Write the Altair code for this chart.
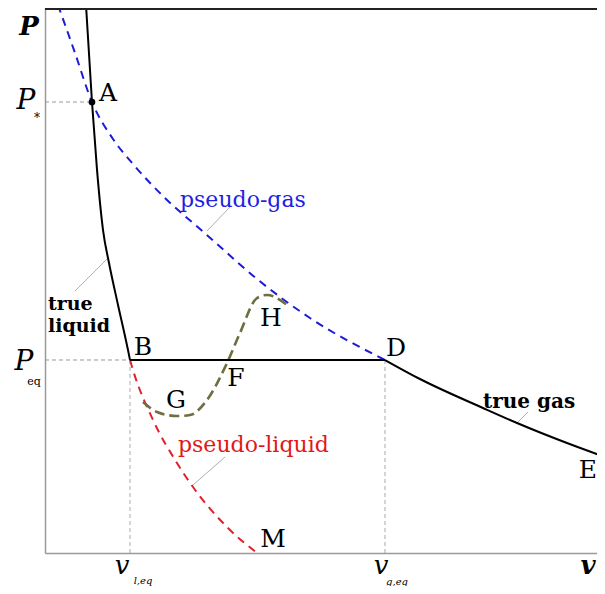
import altair as alt
import pandas as pd

# ---- curve data (v, P in arbitrary units) ----
liq_v = [0.732, 0.839, 0.929, 1.036, 1.143, 1.304, 1.482, 1.518]
liq_P = [10.0, 8.23, 6.99, 5.894, 5.292, 4.526, 3.704, 3.522]

gas_v = [6.071, 6.696, 7.821, 8.429, 9.321, 10.0]
gas_P = [3.522, 3.175, 2.646, 2.372, 2.007, 1.752]

tie_v = [1.518, 6.071]
tie_P = [3.522, 3.522]

pgas_v = [0.232, 0.536, 0.839, 1.214, 1.571, 2.179, 2.768, 3.071, 3.786, 4.732, 6.071]
pgas_P = [10.0, 9.124, 8.23, 7.555, 7.099, 6.442, 5.912, 5.639, 5.0, 4.288, 3.522]

pliq_v = [1.518, 1.571, 1.929, 2.357, 2.643, 3.25, 3.786]
pliq_P = [3.522, 3.339, 2.427, 1.642, 1.204, 0.474, 0.0]

loop_v = [1.75, 2.0, 2.357, 2.589, 2.893, 3.25, 3.482, 3.786, 3.964, 4.321]
loop_P = [2.755, 2.573, 2.5, 2.518, 2.792, 3.467, 4.015, 4.653, 4.708, 4.526]

A_v, A_P = 0.839, 8.23
v_leq, v_geq, P_eq = 1.518, 6.071, 3.522

# point labels
pt_text = ["A", "B", "D", "F", "G", "H", "M"]
pt_v = [1.125, 1.75, 6.268, 3.411, 2.339, 4.036, 4.071]
pt_P = [8.394, 3.759, 3.741, 3.193, 2.792, 4.288, 0.255]

XMAX = 552 / 56
YMAX = 545 / 54.8
xs = alt.Scale(domain=[0, XMAX], nice=False, zero=False)
ys = alt.Scale(domain=[0, YMAX], nice=False, zero=False)
FONT = "DejaVu Serif"


def X(f="v"):
    return alt.X(f + ":Q", scale=xs, title=None)


def Y(f="P"):
    return alt.Y(f + ":Q", scale=ys, title=None)


def curve(vs, ps, color, dash=None, width=2.0):
    df = pd.DataFrame({"v": vs, "P": ps})
    kw = dict(interpolate="monotone", clip=True, color=color, strokeWidth=width)
    if dash:
        kw["strokeDash"] = dash
    return alt.Chart(df).mark_line(**kw).encode(x=X(), y=Y())


def seg(v1, p1, v2, p2, color="#aaaaaa", dash=None, width=1.0):
    df = pd.DataFrame({"v": [v1], "P": [p1], "v2": [v2], "P2": [p2]})
    kw = dict(color=color, strokeWidth=width)
    if dash:
        kw["strokeDash"] = dash
    return alt.Chart(df).mark_rule(**kw).encode(
        x=X(), y=Y(), x2="v2:Q", y2="P2:Q")


def label(t, v, p, size, color="black", style="normal", weight="normal", align="center", baseline="middle"):
    df = pd.DataFrame({"v": [v], "P": [p], "t": [t]})
    return alt.Chart(df).mark_text(
        font=FONT, fontSize=size, color=color, fontStyle=style, fontWeight=weight,
        align=align, baseline=baseline).encode(x=X(), y=Y(), text="t:N")


def px(x, y):
    return ((x - 45) / 56, (553 - y) / 54.8)


layers = []
# helper dashed lines
layers.append(seg(0, A_P, A_v, A_P, color="#999999", dash=[4, 3]))
layers.append(seg(0, P_eq, v_leq, P_eq, color="#999999", dash=[4, 3]))
layers.append(seg(v_leq, 0, v_leq, P_eq, color="#aaaaaa", dash=[4, 3]))
layers.append(seg(v_geq, 0, v_geq, P_eq, color="#aaaaaa", dash=[4, 3]))
# leader lines
for (a, b) in [((75, 291), (107, 259)), ((207, 231), (230, 207)),
               ((193, 485), (225, 457)), ((517, 423), (528, 412))]:
    v1, p1 = px(*a)
    v2, p2 = px(*b)
    layers.append(seg(v1, p1, v2, p2, color="#b0b0b0", width=1))

# curves
layers.append(curve(pgas_v, pgas_P, "#1c1cd6", dash=[8, 6], width=2))
layers.append(curve(pliq_v, pliq_P, "#e0202a", dash=[8, 6], width=2))
layers.append(curve(loop_v, loop_P, "#6e6e40", dash=[10, 5], width=2.6))
layers.append(curve(liq_v, liq_P, "black", width=2))
layers.append(curve(gas_v, gas_P, "black", width=2))
layers.append(curve(tie_v, tie_P, "black", width=2))

# point A
layers.append(alt.Chart(pd.DataFrame({"v": [A_v], "P": [A_P]})).mark_point(
    filled=True, color="black", size=45, opacity=1).encode(x=X(), y=Y()))

# top border
layers.append(alt.Chart(pd.DataFrame({"a": [0]})).mark_rule(color="#222222", strokeWidth=2).encode(
    x=alt.value(0), x2=alt.value(552), y=alt.value(1)))

# point labels
pts = pd.DataFrame({"v": pt_v, "P": pt_P, "t": pt_text})
layers.append(alt.Chart(pts).mark_text(font=FONT, fontSize=25, color="black",
                                       align="center", baseline="middle").encode(
    x=X(), y=Y(), text="t:N"))
ev, ep = px(597, 470)
layers.append(label("E", ev, ep, 25, align="right"))

# curve labels
v, p = px(180, 200)
layers.append(label("pseudo-gas", v, p, 22, color="#1e1ee6", align="left"))
v, p = px(178, 445)
layers.append(label("pseudo-liquid", v, p, 22, color="#e01818", align="left"))
v, p = px(483, 408)
layers.append(label("true gas", v, p, 20, weight="bold", align="left", baseline="alphabetic"))
v, p = px(48, 310)
layers.append(label("true", v, p, 19, weight="bold", align="left", baseline="alphabetic"))
v, p = px(48, 332)
layers.append(label("liquid", v, p, 19, weight="bold", align="left", baseline="alphabetic"))

# axis labels
v, p = px(29, 35)
layers.append(label("P", v, p, 26, style="italic", weight="bold", baseline="alphabetic"))
v, p = px(26, 101)
layers.append(label("P", v, p, 28, style="italic"))
v, p = px(37, 118)
layers.append(label("*", v, p, 12))
v, p = px(24, 362)
layers.append(label("P", v, p, 28, style="italic"))
v, p = px(34, 382)
layers.append(label("eq", v, p, 11))
v, p = px(122, 566)
layers.append(label("v", v, p, 26, style="italic"))
v, p = px(143, 581)
layers.append(label("l,eq", v, p, 10, style="italic"))
v, p = px(381, 566)
layers.append(label("v", v, p, 26, style="italic"))
v, p = px(397, 582)
layers.append(label("g,eq", v, p, 10, style="italic"))
v, p = px(588, 566)
layers.append(label("v", v, p, 26, style="italic", weight="bold"))

chart = alt.layer(*layers).properties(
    width=552, height=545,
    autosize=alt.AutoSizeParams(type="none"),
    padding={"left": 37, "top": 0, "right": 0, "bottom": 33},
).configure_axis(
    labels=False, ticks=False, grid=False, domainColor="#9a9a9a", domainWidth=1.5
).configure_view(stroke=None)

chart.save("out.html", embed_options={"renderer": "svg", "actions": False})
